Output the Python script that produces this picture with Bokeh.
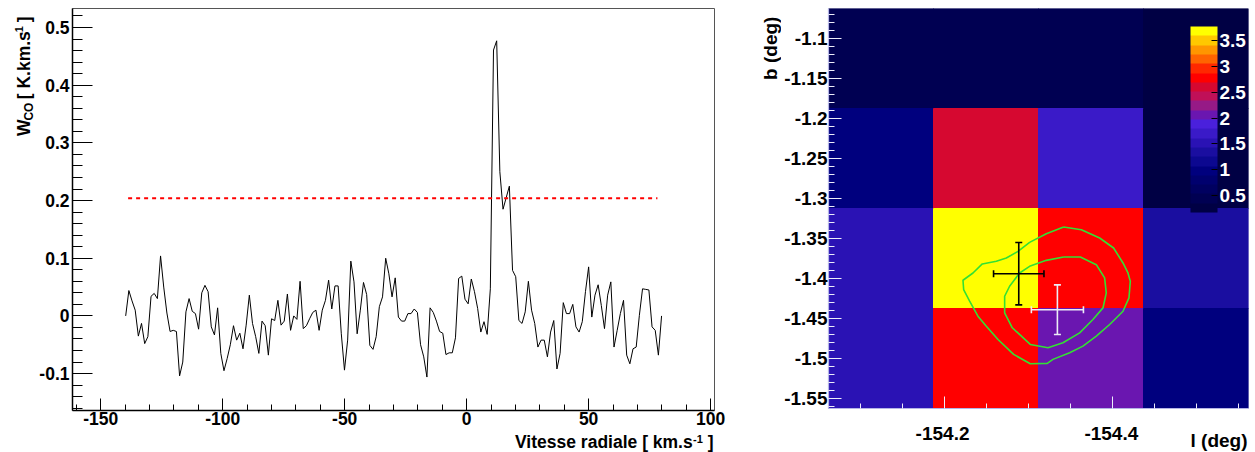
import math
from bokeh.plotting import figure
from bokeh.models import (Range1d, FixedTicker, CustomJSTickFormatter, Label, ColorBar,
                          LinearColorMapper, ColumnDataSource)
from bokeh.layouts import row, column
from bokeh.transform import transform
from bokeh.embed import file_html
from bokeh.resources import INLINE

# ------------------------------------------------------------------ data
velocity = [
    -139.8, -138.5, -137.2, -135.9, -134.6, -133.3, -132.0, -130.7, -129.4, -128.1,
    -126.8, -125.5, -124.2, -122.9, -121.6, -120.3, -119.0, -117.7, -116.4, -115.1,
    -113.8, -112.5, -111.2, -109.9, -108.6, -107.3, -106.0, -104.7, -103.4, -102.1,
    -100.8, -99.5, -98.2, -96.9, -95.6, -94.3, -93.0, -91.7, -90.4, -89.1,
    -87.8, -86.5, -85.2, -83.9, -82.6, -81.3, -80.0, -78.7, -77.4, -76.1,
    -74.8, -73.5, -72.2, -70.9, -69.6, -68.3, -67.0, -65.7, -64.4, -63.1,
    -61.8, -60.5, -59.2, -57.9, -56.6, -55.3, -54.0, -52.7, -51.4, -50.1,
    -48.8, -47.5, -46.2, -44.9, -43.6, -42.3, -41.0, -39.7, -38.4, -37.1,
    -35.8, -34.5, -33.2, -31.9, -30.6, -29.3, -28.0, -26.7, -25.4, -24.1,
    -22.8, -21.5, -20.2, -18.9, -17.6, -16.3, -15.0, -13.7, -12.4, -11.1,
    -9.8, -8.5, -7.2, -5.9, -4.6, -3.3, -2.0, -0.7, 0.6, 1.9,
    3.2, 4.5, 5.8, 7.1, 8.4, 9.7, 11.0, 12.3, 13.6, 14.9,
    16.2, 17.5, 18.8, 20.1, 21.4, 22.7, 24.0, 25.3, 26.6, 27.9,
    29.2, 30.5, 31.8, 33.1, 34.4, 35.7, 37.0, 38.3, 39.6, 40.9,
    42.2, 43.5, 44.8, 46.1, 47.4, 48.7, 50.0, 51.3, 52.6, 53.9,
    55.2, 56.5, 57.8, 59.1, 60.4, 61.7, 63.0, 64.3, 65.6, 66.9,
    68.2, 69.5, 70.8, 72.1, 73.4, 74.7, 76.0, 77.3, 78.6, 79.9,
]
w_co = [
    0.000, 0.044, 0.026, 0.010, -0.035, -0.013, -0.048, -0.036, 0.034, 0.039,
    0.030, 0.104, 0.050, 0.005, -0.027, -0.025, -0.027, -0.104, -0.080, 0.007,
    0.030, 0.008, 0.004, -0.023, 0.040, 0.053, 0.042, -0.019, -0.033, 0.014,
    -0.065, -0.095, -0.074, -0.050, -0.017, -0.042, -0.030, -0.057, -0.016, 0.036,
    -0.013, -0.036, -0.065, -0.009, -0.017, -0.068, -0.005, -0.008, 0.027, -0.016,
    -0.009, 0.038, -0.025, 0.000, -0.006, 0.060, -0.022, -0.017, -0.005, 0.006,
    0.010, -0.025, 0.010, 0.027, 0.062, 0.012, 0.052, 0.052, -0.031, -0.094,
    -0.042, 0.095, 0.059, -0.031, 0.010, 0.058, 0.037, -0.051, -0.058, -0.036,
    0.016, 0.033, 0.100, 0.073, 0.033, 0.066, -0.002, -0.009, -0.009, 0.004,
    0.004, 0.012, 0.006, -0.050, -0.071, -0.106, 0.014, 0.006, -0.009, -0.027,
    -0.030, -0.067, -0.064, -0.064, -0.038, 0.065, 0.069, 0.029, 0.021, 0.064,
    0.042, 0.013, -0.028, -0.010, -0.032, 0.047, 0.461, 0.477, 0.250, 0.185,
    0.205, 0.225, 0.079, 0.068, -0.008, -0.013, 0.007, 0.060, 0.010, -0.013,
    -0.054, -0.042, -0.042, -0.071, -0.028, -0.008, -0.092, -0.065, 0.023, 0.004,
    0.004, 0.020, -0.019, -0.028, -0.010, 0.042, 0.085, -0.002, 0.036, 0.054,
    0.018, -0.022, 0.036, 0.059, -0.054, -0.025, 0.004, 0.027, -0.068, -0.083,
    -0.057, -0.054, 0.001, 0.047, 0.046, 0.045, -0.019, -0.025, -0.068, 0.000,
]
threshold_w = 0.204
threshold_v = [-138.8, 78.2]

v_major = [-150, -100, -50, 0, 50, 100]
v_minor = [-160, -140, -130, -120, -110, -90, -80, -70, -60, -40, -30, -20, -10,
           10, 20, 30, 40, 60, 70, 80, 90]
w_major = [-0.1, 0.0, 0.1, 0.2, 0.3, 0.4, 0.5]
w_minor = [round(-0.16 + 0.02 * k, 2) for k in range(0, 35)]

# sky map (l, b) cells, rows from top (b high) to bottom
l_centers = [-154.125, -154.25, -154.375, -154.5]
b_centers = [-1.125, -1.25, -1.375, -1.5]
cell_size = 0.125
wco_map = [
    [0.45, 0.45, 0.50, 0.17],
    [1.00, 2.60, 1.70, 0.25],
    [1.50, 3.78, 2.78, 1.35],
    [1.50, 2.78, 2.05, 1.00],
]
palette = ["#000044", "#000052", "#000060", "#00006e", "#00007e", "#0c0890", "#1a0ea0",
           "#2a12b4", "#3a1ac8", "#4a20dc", "#6a16b0", "#961a86", "#c01058", "#d60830",
           "#ff0000", "#ff2800", "#ff6400", "#ff9600", "#ffc800", "#ffff00"]
z_ticks = [0.5, 1, 1.5, 2, 2.5, 3, 3.5]

outer_l = [-154.3424, -154.3635, -154.3853, -154.4019, -154.4131, -154.4190, -154.4218,
           -154.4202, -154.4131, -154.3972, -154.3813, -154.3654, -154.3496, -154.3297,
           -154.3230, -154.3027, -154.2829, -154.2643, -154.2504, -154.2404, -154.2305,
           -154.2234, -154.2226, -154.2345, -154.2456, -154.2623, -154.2742, -154.2881,
           -154.3019, -154.3218]
outer_b = [-1.3357, -1.3390, -1.3494, -1.3619, -1.3806, -1.3931, -1.4035, -1.4242,
           -1.4409, -1.4575, -1.4720, -1.4845, -1.4928, -1.5011, -1.5061, -1.5065,
           -1.4949, -1.4762, -1.4596, -1.4471, -1.4284, -1.4138, -1.4022, -1.3931,
           -1.3818, -1.3785, -1.3744, -1.3661, -1.3548, -1.3440]
inner_l = [-154.3424, -154.3623, -154.3813, -154.3912, -154.3932, -154.3893, -154.3773,
           -154.3615, -154.3416, -154.3238, -154.3027, -154.2813, -154.2722, -154.2722,
           -154.2781, -154.2900, -154.3019, -154.3218]
inner_b = [-1.3731, -1.3731, -1.3827, -1.3993, -1.4180, -1.4367, -1.4512, -1.4679,
           -1.4803, -1.4866, -1.4824, -1.4616, -1.4429, -1.4222, -1.4097, -1.3931,
           -1.3848, -1.3773]

cross_l = [-154.289, -154.335]
cross_b = [-1.394, -1.439]
cross_el = [0.030, 0.031]
cross_eb = [0.039, 0.031]
cross_color = ["black", "#ececf6"]

l_major = [-154.2, -154.4]
l_minor = [-154.1, -154.15, -154.25, -154.3, -154.35, -154.45, -154.5, -154.55]
b_major = [-1.1, -1.15, -1.2, -1.25, -1.3, -1.35, -1.4, -1.45, -1.5, -1.55]
b_minor = [round(-1.06 - 0.01 * k, 2) for k in range(1, 51)]

# ------------------------------------------------------------------ helpers
FONT = "Liberation Sans"
AFM = {" ": 278, "(": 333, ")": 333, "-": 333, ".": 278, "1": 556, "C": 722, "K": 722,
       "O": 778, "V": 667, "W": 944, "[": 333, "]": 333, "a": 556, "d": 611, "e": 556,
       "i": 278, "k": 556, "l": 278, "m": 889, "r": 389, "s": 556, "t": 333}
MID = 0.3465   # distance (in em) from the text-box middle down to the baseline


def tw(s, size):
    return sum(AFM.get(c, 556) for c in s) * size / 1000.0


fmt = CustomJSTickFormatter(code="return String(Math.round(tick*1000)/1000);")
blank = CustomJSTickFormatter(code="return '';")


def add_label(p, x, y, text, size, angle=0.0, align="left", color="black"):
    p.add_layout(Label(x=x, y=y, text=text, angle=angle, text_align=align,
                       text_baseline="middle", text_font=FONT, text_font_style="bold",
                       text_font_size=f"{size}px", text_color=color))


def text_canvas(w, h, xr):
    # a bare canvas whose frame is the whole figure; y runs 0 (bottom) .. h (top) in px
    f = figure(width=w, height=h, output_backend="svg", toolbar_location=None,
               x_range=Range1d(*xr), y_range=Range1d(0, h),
               x_axis_location=None, y_axis_location=None,
               min_border_left=0, min_border_right=0, min_border_top=0, min_border_bottom=0)
    f.grid.visible = False
    f.outline_line_color = None
    f.background_fill_color = "white"
    f.border_fill_color = "white"
    return f


def style_axis(ax, major_in, minor_in, size, line_color, tick_color, lw):
    ax.major_tick_in = major_in
    ax.major_tick_out = 0
    ax.minor_tick_in = minor_in
    ax.minor_tick_out = 0
    ax.axis_line_width = lw
    ax.axis_line_color = line_color
    ax.major_tick_line_color = tick_color
    ax.minor_tick_line_color = tick_color
    ax.major_label_text_font = FONT
    ax.major_label_text_font_style = "bold"
    ax.major_label_text_font_size = size
    ax.major_label_text_color = "black"


# ------------------------------------------------------------------ left: spectrum
H1 = 432
P1W, P1L, P1R, P1T = 724, 34, 46, 8
xr1 = (-161.6, 101.6)
yr1 = (-0.164, 0.533)
p1 = figure(width=P1W, height=H1, output_backend="svg", toolbar_location=None,
            x_range=Range1d(*xr1), y_range=Range1d(*yr1),
            min_border_left=P1L, min_border_right=P1R,
            min_border_top=P1T, min_border_bottom=22)
p1.grid.visible = False
p1.outline_line_color = "#555555"
p1.outline_line_width = 1
p1.background_fill_color = "white"
p1.border_fill_color = "white"

p1.line(velocity, w_co, line_color="black", line_width=1)
p1.line(threshold_v, [threshold_w, threshold_w], line_color="#ff0000", line_width=2,
        line_dash="4 4")

p1.xaxis.ticker = FixedTicker(ticks=v_major, minor_ticks=v_minor)
p1.yaxis.ticker = FixedTicker(ticks=w_major, minor_ticks=w_minor)
p1.xaxis.formatter = fmt
p1.yaxis.formatter = fmt
style_axis(p1.xaxis, 12, 6, "17.5px", "black", "black", 1.5)
style_axis(p1.yaxis, 20, 10, "17.5px", "black", "black", 1.5)
p1.xaxis.major_label_standoff = 1
p1.yaxis.major_label_standoff = 3

# y title canvas (left of p1): W_CO [ K.km.s^-1 ]  (reads bottom to top)
YT1W = 36
yt1 = text_canvas(YT1W, H1, (0, YT1W))
MS = 17.5
pieces = [("W", MS, 0), ("CO", 12, 3), (None, MS, 0), ("[ K.km.s", MS, 0),
          ("-1", 11, -7), (None, MS, 0), ("]", MS, 0)]
total = sum(tw(t if t else " ", s) for t, s, _ in pieces)
base_x, end_y = 29.5, 9.0          # baseline px from left / end px from top
cur = end_y + total
for t, s, sh in pieces:
    wdt = tw(t if t else " ", s)
    if t:
        add_label(yt1, base_x + sh - MID * s, H1 - cur, t, s, angle=math.pi / 2)
    cur -= wdt

# x title canvas (below p1): Vitesse radiale [ km.s^-1 ]
XT1W, XT1H = YT1W + P1W, 452 - H1
xt1 = text_canvas(XT1W, XT1H, (0, XT1W))
pieces = [("Vitesse radiale [ km.s", MS, 0), ("-1", 11, -6), (None, MS, 0), ("]", MS, 0)]
total = sum(tw(t if t else " ", s) for t, s, _ in pieces)
right_x, base_y = 713.0, 16.0       # px from left / baseline px from top
cur = right_x - total
for t, s, sh in pieces:
    wdt = tw(t if t else " ", s)
    if t:
        add_label(xt1, cur, XT1H - (base_y + sh - MID * s), t, s)
    cur += wdt

# ------------------------------------------------------------------ right: map
H2 = 410
YT2W = 21
P2W, P2L, P2R, P2T = 1255 - XT1W - YT2W, 45, 7, 8
P2FW = P2W - P2L - P2R
xr2 = (-154.0625, -154.5625)
yr2 = (-1.5625, -1.0625)
p2 = figure(width=P2W, height=H2, output_backend="svg", toolbar_location=None,
            x_range=Range1d(*xr2), y_range=Range1d(*yr2),
            min_border_left=P2L, min_border_right=P2R,
            min_border_top=P2T, min_border_bottom=2)
p2.grid.visible = False
p2.outline_line_color = None
p2.background_fill_color = "white"
p2.border_fill_color = "white"

mapper = LinearColorMapper(palette=palette,
                           low=min(min(r) for r in wco_map),
                           high=max(max(r) for r in wco_map))
cells = dict(left=[], right=[], bottom=[], top=[], value=[])
for ri, b in enumerate(b_centers):
    for ci, l in enumerate(l_centers):
        cells["left"].append(l - cell_size / 2)
        cells["right"].append(l + cell_size / 2)
        cells["bottom"].append(b - cell_size / 2)
        cells["top"].append(b + cell_size / 2)
        cells["value"].append(wco_map[ri][ci])
p2.quad(left="left", right="right", bottom="bottom", top="top",
        source=ColumnDataSource(cells), fill_color=transform("value", mapper),
        line_color=transform("value", mapper), line_width=1)

green = "#33e033"
p2.line(outer_l + outer_l[:1], outer_b + outer_b[:1], line_color=green, line_width=1.6)
p2.line(inner_l + inner_l[:1], inner_b + inner_b[:1], line_color=green, line_width=1.6)

for l, b, el, eb, col in zip(cross_l, cross_b, cross_el, cross_eb, cross_color):
    p2.segment(x0=[l - el, l], y0=[b, b - eb], x1=[l + el, l], y1=[b, b + eb],
               line_color=col, line_width=1.6)
    p2.scatter(x=[l - el, l + el], y=[b, b], marker="dash", size=7, angle=math.pi / 2,
               line_color=col, line_width=1.6)
    p2.scatter(x=[l, l], y=[b - eb, b + eb], marker="dash", size=7,
               line_color=col, line_width=1.6)

p2.xaxis.ticker = FixedTicker(ticks=l_major, minor_ticks=l_minor)
p2.yaxis.ticker = FixedTicker(ticks=b_major, minor_ticks=b_minor)
p2.xaxis.formatter = blank
p2.yaxis.formatter = fmt
style_axis(p2.xaxis, 12, 5, "0px", "#b4b4e6", "#ececfa", 1.2)
style_axis(p2.yaxis, 13, 6, "19px", "#b4b4e6", "#ececfa", 1.2)
p2.xaxis.major_label_standoff = 0
p2.yaxis.major_label_standoff = 1

cb = ColorBar(color_mapper=mapper, location=(362, 196), width=27, height=186,
              padding=0, margin=0, ticker=FixedTicker(ticks=z_ticks), formatter=fmt,
              major_label_text_color="white", major_label_text_font=FONT,
              major_label_text_font_style="bold", major_label_text_font_size="19px",
              label_standoff=2, major_tick_in=6, major_tick_out=0,
              major_tick_line_color="black", minor_tick_line_color=None,
              bar_line_color=None, border_line_color=None,
              background_fill_alpha=0)
p2.add_layout(cb)

# y title canvas (left of p2)
yt2 = text_canvas(YT2W, H2, (0, YT2W))
add_label(yt2, 17 - MID * 19, H2 - 8.3, "b (deg)", 19, angle=math.pi / 2, align="right")

# tick-label / x-title canvas below p2, sharing p2's l scale
XT2W, XT2H = YT2W + P2W, 452 - H2
px_per_l = P2FW / (xr2[1] - xr2[0])
frame_left = YT2W + P2L
xr_t = (xr2[0] - frame_left / px_per_l, xr2[0] + (XT2W - frame_left) / px_per_l)
xt2 = text_canvas(XT2W, XT2H, xr_t)
for v in l_major:
    add_label(xt2, v, XT2H - (30 - MID * 19), f"{v:g}", 19, align="center")
add_label(xt2, xr_t[0] + (XT2W - 8) / px_per_l, XT2H - (37 - MID * 19), "l (deg)", 19,
          align="right")

layout = row(column(row(yt1, p1), xt1), column(row(yt2, p2), xt2))
open("out.html", "w").write(file_html(layout, INLINE))
